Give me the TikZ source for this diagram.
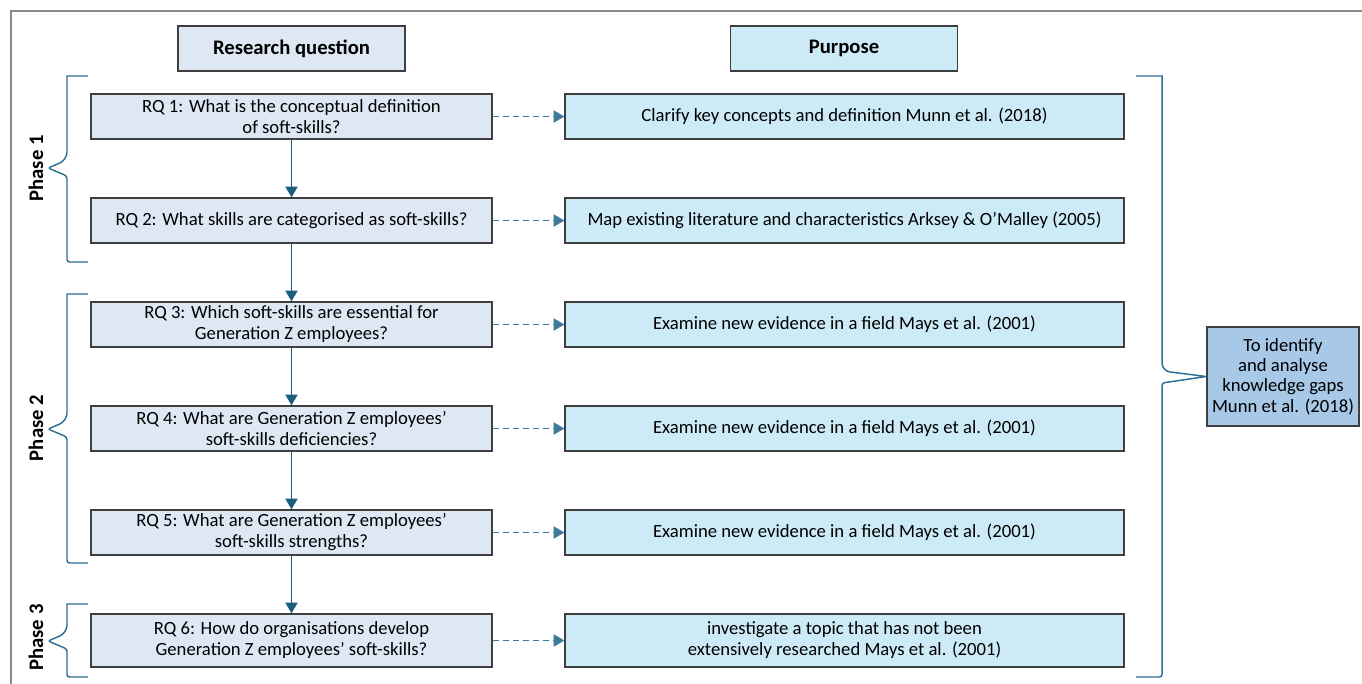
\documentclass[tikz,border=0pt]{standalone}
\usepackage{fontspec}
\setmainfont{Carlito}
\usetikzlibrary{arrows.meta}
\definecolor{rqfill}{HTML}{DDE8F4}
\definecolor{pufill}{HTML}{CDEBF6}
\definecolor{goalfill}{HTML}{A8C8E8}
\definecolor{boxline}{HTML}{3F3F3F}
\definecolor{flowblue}{HTML}{1F5F82}
\definecolor{dashblue}{HTML}{3C7A99}
\definecolor{braceblue}{HTML}{2F6F93}
\definecolor{framegray}{HTML}{8A8A8A}
\tikzset{
	box/.style={draw=boxline, line width=0.9pt, inner sep=2pt, align=center, font=\fontsize{14}{15.75}\selectfont},
	rqbox/.style={box, fill=rqfill, minimum width=300.75pt, minimum height=33.75pt},
	pubox/.style={box, fill=pufill, minimum width=419.25pt, minimum height=33.75pt},
	headbox/.style={box, minimum width=170.25pt, minimum height=33.75pt, font=\fontsize{15.5}{18}\selectfont\bfseries},
	flow/.style={draw=flowblue, line width=1.2pt, -{Triangle[length=8pt, width=9pt]}},
	link/.style={draw=dashblue, line width=1.2pt, dash pattern=on 4.5pt off 3pt, -{Triangle[length=8pt, width=9pt]}},
	bracepen/.style={draw=braceblue, line width=1.1pt},
	phase/.style={rotate=90, font=\fontsize{15.5}{18}\selectfont\bfseries}
}

\begin{document}
\begin{tikzpicture}[x=0.75pt, y=-0.75pt]
	\useasboundingbox (0,0) rectangle (1362,684);
	\draw[framegray, line width=1.1pt] (11,684) -- (11,11) -- (1362,11);
	% headers
	\node[headbox, fill=rqfill] (hrq) at (291.5,48.5) {Research question};
	\node[headbox, fill=pufill] (hpu) at (844,48.5) {Purpose};
	% research questions
	\node[rqbox] (rq1) at (291.5,116.5) {RQ 1: What is the conceptual definition\\of soft-skills?};
	\node[rqbox] (rq2) at (291.5,220.5) {RQ 2: What skills are categorised as soft-skills?};
	\node[rqbox] (rq3) at (291.5,324.5) {RQ 3: Which soft-skills are essential for\\Generation Z employees?};
	\node[rqbox] (rq4) at (291.5,428.5) {RQ 4: What are Generation Z employees’\\soft-skills deficiencies?};
	\node[rqbox] (rq5) at (291.5,532.5) {RQ 5: What are Generation Z employees’\\soft-skills strengths?};
	\node[rqbox, minimum height=39.75pt] (rq6) at (291.5,640.5) {RQ 6: How do organisations develop\\Generation Z employees’ soft-skills?};
	% purposes
	\node[pubox] (pu1) at (844.5,116.5) {Clarify key concepts and definition Munn et al. (2018)};
	\node[pubox] (pu2) at (844.5,220.5) {Map existing literature and characteristics Arksey \& O'Malley (2005)};
	\node[pubox] (pu3) at (844.5,324.5) {Examine new evidence in a field Mays et al. (2001)};
	\node[pubox] (pu4) at (844.5,428.5) {Examine new evidence in a field Mays et al. (2001)};
	\node[pubox] (pu5) at (844.5,532.5) {Examine new evidence in a field Mays et al. (2001)};
	\node[pubox, minimum height=39.75pt] (pu6) at (844.5,640.5) {investigate a topic that has not been\\extensively researched Mays et al. (2001)};
	\node[box, fill=goalfill, minimum width=114pt, minimum height=74.25pt, font=\fontsize{14}{15.2}\selectfont] (goal) at (1283,376.5) {To identify\\and analyse\\knowledge gaps\\Munn et al. (2018)};
	% connectors
	\foreach \a/\b in {1/2, 2/3, 3/4, 4/5, 5/6}
		\draw[flow] (rq\a.south) -- (rq\b.north);
	\foreach \i in {1,...,6}
		\draw[link] (rq\i.east) -- (pu\i.west);
	% phase braces
	\draw[bracepen] (88,76) -- (67,76) [rounded corners=6pt] -- (67,160) [rounded corners=2pt] -- (48,168) -- (67,176) -- (67,262) [rounded corners=6pt] -- (88,262);
	\draw[bracepen] (88,294) -- (67,294) [rounded corners=6pt] -- (67,421) [rounded corners=2pt] -- (48,429) -- (67,437) -- (67,563) [rounded corners=6pt] -- (88,563);
	\draw[bracepen] (88,604) -- (67,604) [rounded corners=6pt] -- (67,633) [rounded corners=2pt] -- (48,641) -- (67,649) -- (67,677) [rounded corners=6pt] -- (88,677);
	\node[phase] (ph1) at (36,168.5) {Phase 1};
	\node[phase] (ph2) at (36,428) {Phase 2};
	\node[phase] (ph3) at (36,637.5) {Phase 3};
	% overall brace
	\draw[bracepen] (1136,76) -- (1162,76) [rounded corners=6pt] -- (1162,371) [rounded corners=2pt] -- (goal.west) -- (1162,383) -- (1162,677) [rounded corners=6pt] -- (1136,677);
\end{tikzpicture}
\end{document}
